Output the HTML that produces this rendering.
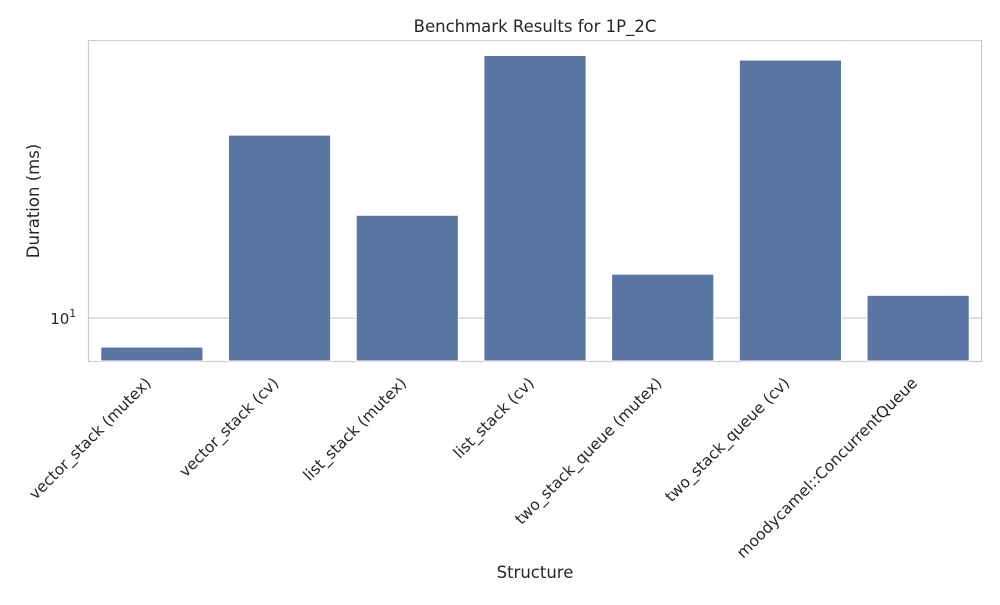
<!DOCTYPE html>
<html><head><meta charset="utf-8"><style>
body{margin:0;background:#fff;}
svg text{font-family:"DejaVu Sans","Liberation Sans",sans-serif;fill:#262626;}
</style></head><body>
<svg id="chart" width="1000" height="600">
<rect x="88.5" y="40.5" width="893" height="321" fill="#fff" stroke="#cccccc" stroke-width="1.2"/>
<g id="grid"></g><g id="bars"></g><g id="xlabels"></g>
<text x="535" y="32" text-anchor="middle" font-size="16.5">Benchmark Results for 1P_2C</text>
<text x="39" y="201" text-anchor="middle" font-size="16.5" transform="rotate(-90 39 201)">Duration (ms)</text>
<text x="535" y="578" text-anchor="middle" font-size="16.5">Structure</text>
</svg>
<script>
const categories=["vector_stack (mutex)","vector_stack (cv)","list_stack (mutex)","list_stack (cv)","two_stack_queue (mutex)","two_stack_queue (cv)","moodycamel::ConcurrentQueue"];
const values=[8.0,40.7,22.0,75,14.0,72.4,11.9];
const yTicks=[10];
const ns="http://www.w3.org/2000/svg";
const x0=88,plotW=894,bandW=plotW/categories.length,bottom=361;
function y(v){return 318-300*Math.log10(v/10);}
function xc(i){return x0+bandW*(i+0.5);}
const grid=document.getElementById('grid');
yTicks.forEach(t=>{
 const l=document.createElementNS(ns,'line');
 l.setAttribute('x1',x0);l.setAttribute('x2',x0+plotW);l.setAttribute('y1',y(t));l.setAttribute('y2',y(t));
 l.setAttribute('stroke','#cccccc');l.setAttribute('stroke-width','1.2');
 
 
 grid.appendChild(l);
 const tx=document.createElementNS(ns,'text');
 tx.setAttribute('x',x0-12);tx.setAttribute('y',y(t)+6);tx.setAttribute('text-anchor','end');tx.setAttribute('font-size','15');
 tx.innerHTML='10<tspan dy="-7" font-size="10.5">1</tspan>';
 
 
 grid.appendChild(tx);
});
const bars=document.getElementById('bars'),xl=document.getElementById('xlabels');
categories.forEach((c,i)=>{
 const bw=bandW*0.8,top=y(values[i]);
 const r=document.createElementNS(ns,'rect');
 r.setAttribute('x',xc(i)-bw/2);r.setAttribute('y',top);r.setAttribute('width',bw);r.setAttribute('height',bottom-top);
 r.setAttribute('fill','#5975a4');r.setAttribute('stroke','#fff');r.setAttribute('stroke-width','1');
 
 
 bars.appendChild(r);
 const t=document.createElementNS(ns,'text');
 const tx=xc(i),ty=384;
 t.setAttribute('x',tx);t.setAttribute('y',ty);t.setAttribute('text-anchor','end');t.setAttribute('font-size','15.5');
 t.setAttribute('transform','rotate(-45 '+tx+' '+ty+')');
 t.textContent=c;
 
 
 xl.appendChild(t);
});
</script>
</body></html>
